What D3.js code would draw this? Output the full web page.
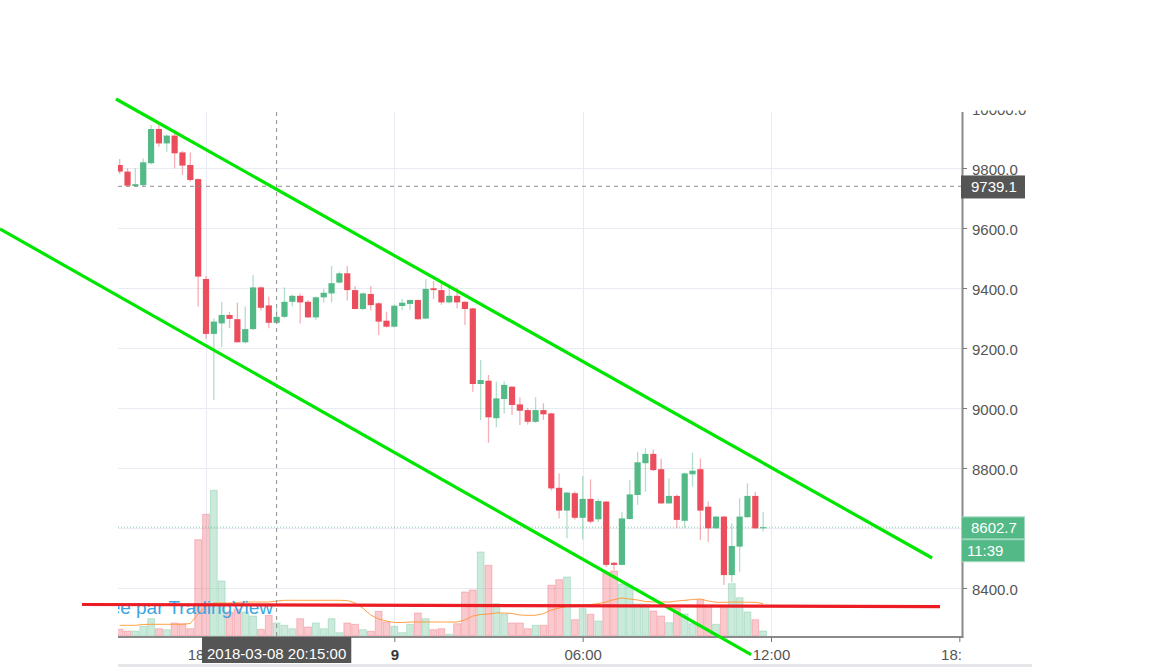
<!DOCTYPE html>
<html><head><meta charset="utf-8">
<script src="https://cdn.jsdelivr.net/npm/d3@7"></script>
<style>body{margin:0;background:#fff} svg{display:block}</style>
</head><body>
<svg id="chart" width="1169" height="670"></svg>
<script>
// ---------- DATA (15-minute candles, BTC/USD) ----------
const firstCandleTime = "2018-03-08 15:15";
const candleMinutes = 15;
const opens = [
 9810, 9788, 9740, 9743, 9816, 9930, 9882, 9908, 9852, 9810, 9763,
 9430, 9247, 9282, 9310, 9296, 9219, 9263, 9402, 9342, 9284,
 9304, 9354, 9374, 9354, 9302, 9369, 9382, 9418, 9449, 9393,
 9330, 9380, 9349, 9291, 9271, 9340, 9347, 9360, 9298, 9399,
 9393, 9352, 9374, 9354, 9332, 9080, 9091, 8966, 9030, 9071,
 9012, 8993, 8954, 8993, 8982, 8734, 8658, 8716, 8634, 8697,
 8629, 8688, 8484, 8477, 8630, 8710, 8816, 8847, 8796, 8682,
 8707, 8624, 8779, 8796, 8671, 8599, 8638, 8443, 8538, 8636,
 8707, 8599];
const highs = [
 9830, 9799, 9799, 9832, 9943, 9943, 9912, 9916, 9857, 9852, 9766,
 9440, 9299, 9354, 9320, 9351, 9338, 9443, 9405, 9371, 9332,
 9402, 9378, 9382, 9360, 9372, 9397, 9473, 9455, 9473, 9407,
 9385, 9407, 9352, 9321, 9345, 9363, 9362, 9362, 9429, 9423,
 9416, 9402, 9402, 9356, 9334, 9160, 9110, 9088, 9088, 9073,
 9036, 9000, 9036, 9016, 8984, 8782, 8720, 8722, 8773, 8762,
 8698, 8690, 8487, 8654, 8760, 8854, 8866, 8862, 8832, 8766,
 8712, 8785, 8851, 8832, 8688, 8640, 8640, 8616, 8699, 8749,
 8721, 8654];
const lows = [
 9780, 9738, 9737, 9740, 9812, 9871, 9854, 9799, 9777, 9754, 9338,
 9232, 9027, 9204, 9266, 9219, 9215, 9260, 9325, 9266, 9280,
 9300, 9338, 9282, 9300, 9293, 9352, 9352, 9415, 9358, 9328,
 9326, 9325, 9243, 9268, 9269, 9327, 9327, 9294, 9296, 9363,
 9344, 9348, 9332, 9277, 9054, 8960, 8884, 8936, 8982, 8977,
 8943, 8945, 8950, 8960, 8725, 8632, 8566, 8628, 8562, 8615,
 8620, 8470, 8460, 8476, 8628, 8677, 8721, 8790, 8680, 8680,
 8599, 8599, 8738, 8560, 8554, 8597, 8410, 8420, 8454, 8634,
 8597, 8588];
const closes = [
 9788, 9741, 9746, 9819, 9930, 9882, 9908, 9849, 9808, 9760, 9438,
 9247, 9288, 9310, 9297, 9219, 9263, 9402, 9334, 9284, 9304,
 9354, 9374, 9352, 9302, 9369, 9384, 9416, 9449, 9393, 9330,
 9382, 9343, 9288, 9271, 9341, 9351, 9360, 9296, 9397, 9393,
 9352, 9374, 9352, 9330, 9080, 9093, 8969, 9032, 9077, 9010,
 8991, 8954, 8993, 8979, 8732, 8658, 8718, 8634, 8697, 8621,
 8690, 8477, 8477, 8632, 8712, 8819, 8847, 8793, 8682, 8707,
 8627, 8782, 8791, 8658, 8599, 8638, 8443, 8540, 8638, 8707,
 8599, 8602.7];
const volumes = [
 67, 50, 50, 97, 173, 73, 63, 130, 123, 73, 963,
 1217, 1457, 550, 240, 270, 240, 200, 67, 207, 130,
 107, 73, 173, 90, 130, 73, 173, 33, 130, 117,
 63, 47, 247, 140, 97, 33, 117, 230, 173, 63,
 73, 17, 123, 440, 460, 840, 707, 323, 217, 130,
 130, 73, 107, 107, 507, 563, 590, 163, 273, 217,
 150, 630, 650, 520, 500, 320, 320, 250, 200, 133,
 280, 220, 123, 363, 300, 117, 283, 523, 383, 240,
 163, 50];
const volumeMA = [
 107, 107, 107, 115, 117, 117, 117, 117, 117, 125, 220,
 300, 330, 330, 330, 335, 340, 340, 340, 340, 350,
 357, 357, 357, 357, 357, 357, 357, 357, 355, 330,
 277, 210, 170, 150, 135, 135, 140, 140, 140, 140,
 140, 140, 140, 160, 200, 215, 220, 230, 230, 225,
 210, 207, 207, 224, 260, 280, 295, 307, 307, 315,
 324, 340, 364, 380, 370, 360, 345, 340, 340, 340,
 350, 357, 365, 370, 350, 337, 337, 340, 340, 337,
 337, 324];

const priceTicks = [8400, 8600, 8800, 9000, 9200, 9400, 9600, 9800, 10000];
const timeTicks = ["2018-03-08 18:00", "2018-03-09 00:00", "2018-03-09 06:00", "2018-03-09 12:00", "2018-03-09 18:00"];
const crosshairTime = "2018-03-08 20:15";
const crosshairPrice = 9739.1;
const lastPrice = 8602.7;
const countdown = "11:39";
const watermark = "Créée par TradingView";

// hand-drawn lines: [time, price] endpoints
const upperChannel = [["2018-03-08 15:08", 10030], ["2018-03-09 17:08", 8500]];
const lowerChannel = [["2018-03-08 11:26", 9597], ["2018-03-09 11:22", 8178]];
const supportLine  = [["2018-03-08 14:03", 8345], ["2018-03-09 17:23", 8338]];

// ---------- SETUP ----------
const parse = d3.utcParse("%Y-%m-%d %H:%M");
const plot = {left: 118, right: 962, top: 112, bottom: 636};
const UP = "#53b987", DOWN = "#eb4d5c";
const FONT = "'Liberation Sans', Arial, sans-serif";

const x = d3.scaleUtc()
  .domain([parse("2018-03-08 18:00"), parse("2018-03-09 12:00")])
  .range([206, 771]);
const y = d3.scaleLinear().domain([8400, 9800]).range([588, 168]);
const yVol = d3.scaleLinear().domain([0, 1000]).range([plot.bottom, plot.bottom - 100]);

const t0 = parse(firstCandleTime);
const candles = opens.map((o, i) => ({
  t: d3.utcMinute.offset(t0, i * candleMinutes),
  o, h: highs[i], l: lows[i], c: closes[i], v: volumes[i], ma: volumeMA[i]
}));

const svg = d3.select("#chart");
svg.append("rect").attr("width", 1169).attr("height", 670).attr("fill", "#fff");
const defs = svg.append("defs");
defs.append("clipPath").attr("id", "plotClip").append("rect")
  .attr("x", plot.left).attr("y", plot.top)
  .attr("width", plot.right - plot.left).attr("height", plot.bottom - plot.top);
defs.append("clipPath").attr("id", "priceLblClip").append("rect")
  .attr("x", plot.right).attr("y", 110.5).attr("width", 200).attr("height", plot.bottom - 110.5);
defs.append("clipPath").attr("id", "timeLblClip").append("rect")
  .attr("x", 0).attr("y", plot.bottom).attr("width", plot.right - 1).attr("height", 40);

const inner = svg.append("g").attr("clip-path", "url(#plotClip)");

// gridlines
inner.append("g").selectAll("line").data(priceTicks).join("line")
  .attr("x1", plot.left).attr("x2", plot.right)
  .attr("y1", d => Math.round(y(d)) + 0.5).attr("y2", d => Math.round(y(d)) + 0.5)
  .attr("stroke", "#e8ecf2").attr("stroke-width", 1);
inner.append("g").selectAll("line")
  .data(timeTicks.map(parse).filter(d => x(d) < plot.right - 10)).join("line")
  .attr("x1", d => Math.round(x(d)) + 0.5).attr("x2", d => Math.round(x(d)) + 0.5)
  .attr("y1", plot.top).attr("y2", plot.bottom)
  .attr("stroke", "#e8ecf2").attr("stroke-width", 1);

// volume bars
inner.append("g").selectAll("rect").data(candles).join("rect")
  .attr("x", d => x(d.t) - 3.4).attr("width", 6.8)
  .attr("y", d => yVol(d.v)).attr("height", d => yVol(0) - yVol(d.v))
  .attr("fill", d => d.c >= d.o ? UP : DOWN).attr("fill-opacity", 0.3)
  .attr("stroke", d => d.c >= d.o ? UP : DOWN).attr("stroke-opacity", 0.3).attr("stroke-width", 1);

// volume MA
inner.append("path").datum(candles)
  .attr("d", d3.line().x(d => x(d.t)).y(d => yVol(d.ma)))
  .attr("fill", "none").attr("stroke", "#ff9632").attr("stroke-width", 1).attr("stroke-opacity", 0.9);

// watermark
inner.append("text").attr("x", 273).attr("y", 614).attr("text-anchor", "end")
  .attr("font-family", FONT).attr("font-size", 19).attr("fill", "#3ea4e2")
  .text(watermark);

// last price dotted line
inner.append("line")
  .attr("x1", plot.left).attr("x2", plot.right)
  .attr("y1", y(lastPrice)).attr("y2", y(lastPrice))
  .attr("stroke", UP).attr("stroke-opacity", 0.7).attr("stroke-dasharray", "1,2");

// candles
const cg = inner.append("g").selectAll("g").data(candles).join("g");
cg.append("line")
  .attr("x1", d => x(d.t)).attr("x2", d => x(d.t))
  .attr("y1", d => y(d.h)).attr("y2", d => y(d.l))
  .attr("stroke", d => d.c >= d.o ? UP : DOWN).attr("stroke-opacity", 0.45).attr("stroke-width", 1.3);
cg.append("rect")
  .attr("x", d => x(d.t) - 3.1).attr("width", 6.2)
  .attr("y", d => y(Math.max(d.o, d.c)))
  .attr("height", d => Math.max(1, Math.abs(y(d.o) - y(d.c))))
  .attr("fill", d => d.c >= d.o ? UP : DOWN);

// crosshair
svg.append("line")
  .attr("x1", x(parse(crosshairTime))).attr("x2", x(parse(crosshairTime)))
  .attr("y1", plot.top).attr("y2", plot.bottom)
  .attr("stroke", "#8c8c8c").attr("stroke-width", 1).attr("stroke-dasharray", "4,4");
svg.append("line")
  .attr("x1", plot.left).attr("x2", plot.right)
  .attr("y1", y(crosshairPrice)).attr("y2", y(crosshairPrice))
  .attr("stroke", "#8c8c8c").attr("stroke-width", 1).attr("stroke-dasharray", "4,4");

// axes lines
svg.append("line").attr("x1", plot.right + 0.5).attr("x2", plot.right + 0.5)
  .attr("y1", plot.top).attr("y2", plot.bottom + 1.5)
  .attr("stroke", "#8a8a8a").attr("stroke-width", 2);
svg.append("line").attr("x1", plot.left).attr("x2", plot.right + 1.5)
  .attr("y1", plot.bottom + 1).attr("y2", plot.bottom + 1)
  .attr("stroke", "#8a8a8a").attr("stroke-width", 2);

// right price axis
const pAxisWrap = svg.append("g").attr("clip-path", "url(#priceLblClip)");
const pAxis = pAxisWrap.append("g").attr("transform", `translate(${plot.right + 1},0)`)
  .call(d3.axisRight(y).tickValues(priceTicks).tickSize(4).tickPadding(5).tickFormat(d3.format(".1f")));
pAxis.select(".domain").remove();
pAxis.selectAll("line").attr("stroke", "#777");
pAxis.selectAll("text").attr("font-family", FONT).attr("font-size", 15).attr("fill", "#555").attr("dy", "0.45em");

// bottom time axis
const timeFmt = d => d.getUTCHours() === 0 && d.getUTCMinutes() === 0 ? d3.utcFormat("%-d")(d) : d3.utcFormat("%H:%M")(d);
const tAxisWrap = svg.append("g").attr("clip-path", "url(#timeLblClip)");
const tAxis = tAxisWrap.append("g").attr("transform", `translate(0,${plot.bottom + 1})`)
  .call(d3.axisBottom(x).tickValues(timeTicks.map(parse)).tickSize(5).tickPadding(7).tickFormat(timeFmt));
tAxis.select(".domain").remove();
tAxis.selectAll("line").attr("stroke", "#777");
tAxis.selectAll("text").attr("font-family", FONT).attr("font-size", 15)
  .attr("font-weight", d => d.getUTCHours() === 0 ? "bold" : "normal")
  .attr("fill", d => d.getUTCHours() === 0 ? "#333" : "#555");

// bottom pane separator
svg.append("rect").attr("x", plot.left).attr("y", 664).attr("width", 914).attr("height", 3).attr("fill", "#e4e6ea");

// crosshair time label
const tLabelX = x(parse(crosshairTime));
const tLbl = svg.append("g");
const tTxt = tLbl.append("text").attr("x", tLabelX).attr("y", 658.5).attr("text-anchor", "middle")
  .attr("font-family", FONT).attr("font-size", 15).attr("fill", "#fff")
  .text(d3.utcFormat("%Y-%m-%d %H:%M:%S")(parse(crosshairTime)));
const tw = tTxt.node().getComputedTextLength();
tLbl.insert("rect", "text").attr("x", tLabelX - tw / 2 - 5).attr("y", 637)
  .attr("width", tw + 10).attr("height", 26).attr("fill", "#555");

// price labels
function priceBox(yc, txt, fill, stroke, tx) {
  const g = svg.append("g");
  g.append("rect").attr("x", plot.right - 0.5).attr("y", yc - 11).attr("width", 63).attr("height", 22)
    .attr("fill", fill).attr("stroke", stroke).attr("stroke-width", 1);
  g.append("text").attr("x", tx).attr("y", yc).attr("dy", "0.36em")
    .attr("font-family", FONT).attr("font-size", 15).attr("fill", "#fff").text(txt);
}
priceBox(y(crosshairPrice) + 0.7, d3.format(".1f")(crosshairPrice), "#555", "#555", 971);
priceBox(y(lastPrice) + 0.7, d3.format(".1f")(lastPrice), UP, "#9fd8bc", 971);
priceBox(y(lastPrice) + 23.5, countdown, UP, "#9fd8bc", 967);

// drawn trend lines (not clipped)
const tl = d3.line().x(d => x(parse(d[0]))).y(d => y(d[1]));
svg.append("path").attr("d", tl(upperChannel)).attr("stroke", "#00e600").attr("stroke-width", 3.2).attr("fill", "none");
svg.append("path").attr("d", tl(lowerChannel)).attr("stroke", "#00e600").attr("stroke-width", 3.2).attr("fill", "none");
svg.append("path").attr("d", tl(supportLine)).attr("stroke", "#ec1c24").attr("stroke-width", 3.2).attr("fill", "none");
</script>
</body></html>
